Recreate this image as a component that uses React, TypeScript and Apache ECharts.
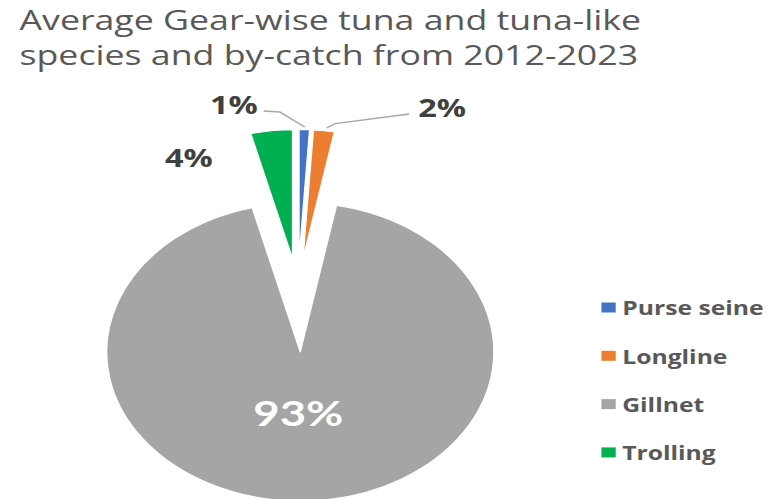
import React, { useEffect, useRef } from 'react';
import * as echarts from 'echarts';

const titleLines = ['Average Gear-wise tuna and tuna-like', 'species and by-catch from 2012-2023'];
const categories = ['Purse seine', 'Longline', 'Gillnet', 'Trolling'];
const shares = [1, 2, 93, 4];

const COLORS = ['#4472C4', '#ED7D31', '#A5A5A5', '#00B050'];
const EXPLODE = [32, 32, 61.6, 32];
const RADII = [129, 129, 149, 129];
const PIE_BASE = [229.2, 290.4];
const SCALE_X = 1.299;
const W = 592;
const H = 499;
const LABEL_FONT = '"Open Sans", Lato, sans-serif';
const BIG_FONT = 'Lato, "Open Sans", sans-serif';

export default function App() {
  const ref = useRef<HTMLDivElement>(null);
  useEffect(() => {
    const chart = echarts.init(ref.current!, null, { renderer: 'svg' });
    const total = shares.reduce((a, b) => a + b, 0);
    const labelSpots: Record<string, { x: number; y: number; line?: number[][] }> = {
      'Purse seine': { x: 180, y: 104, line: [[234.6, 127], [215.4, 112], [203, 111]] },
      Longline: { x: 340.4, y: 107, line: [[251.5, 128], [258, 123.5], [315, 114]] },
      Trolling: { x: 145.4, y: 157 },
      Gillnet: { x: 229.6, y: 413 },
    };
    const bigIdx = shares.indexOf(Math.max(...shares));
    let before = 0;
    const series = categories.map((name, k) => {
      const mid = ((before + shares[k] / 2) / total) * 2 * Math.PI;
      before += shares[k];
      const cx = PIE_BASE[0] + EXPLODE[k] * Math.sin(mid);
      const cy = PIE_BASE[1] - EXPLODE[k] * Math.cos(mid);
      const spot = labelSpots[name];
      const isBig = k === bigIdx;
      return {
        type: 'pie',
        name: 'slice-' + name,
        center: [cx, cy],
        radius: RADII[k],
        startAngle: 90,
        clockwise: true,
        avoidLabelOverlap: false,
        percentPrecision: 0,
        emphasis: { disabled: true },
        itemStyle: { borderColor: '#ffffff', borderWidth: 1 },
        label: {
          fontFamily: isBig ? BIG_FONT : LABEL_FONT,
          fontWeight: 'bold',
          fontSize: isBig ? 35 : 25,
          color: isBig ? '#ffffff' : '#404040',
          formatter: '{d}%',
        },
        labelLine: { lineStyle: { color: '#a6a6a6', width: 1.3 }, smooth: false },
        labelLayout: (p: any) => {
          if (p.dataIndex !== k) return {};
          const r: any = { x: spot.x, y: spot.y, align: 'center', verticalAlign: 'middle' };
          if (spot.line) r.labelLinePoints = spot.line;
          return r;
        },
        data: categories.map((n, i) => ({
          name: n,
          value: shares[i],
          itemStyle: i === k ? { color: COLORS[i] } : { color: 'transparent', borderWidth: 0 },
          label: i === k ? { show: true, position: isBig ? 'inside' : 'outside' } : { show: false },
          labelLine: { show: i === k && !!spot.line },
        })),
      };
    });
    chart.setOption({
      animation: false,
      backgroundColor: '#ffffff',
      title: {
        text: titleLines.join('\n'),
        left: 10,
        top: -3,
        textStyle: { fontFamily: LABEL_FONT, fontWeight: 'normal', fontSize: 27.5, lineHeight: 35, color: '#595959' },
      },
      legend: {
        orient: 'vertical',
        left: 458,
        top: 292.5,
        itemWidth: 11,
        itemHeight: 10,
        itemGap: 28.3,
        icon: 'rect',
        selectedMode: false,
        textStyle: { fontFamily: LABEL_FONT, fontWeight: 'bold', fontSize: 19, color: '#595959', lineHeight: 20 },
        data: categories.map((name, i) => ({ name, itemStyle: { color: COLORS[i], borderWidth: 0 } })),
      },
      series,
    });
    return () => chart.dispose();
  }, []);
  return (
    <div
      ref={ref}
      style={{
        position: 'absolute',
        left: 0,
        top: 0,
        width: W,
        height: H,
        transform: `scaleX(${SCALE_X})`,
        transformOrigin: '0 0',
      }}
    />
  );
}
